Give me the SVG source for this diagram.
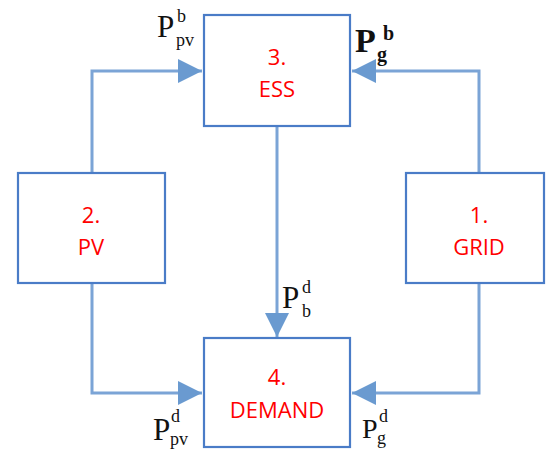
<svg xmlns="http://www.w3.org/2000/svg" width="546" height="450" viewBox="0 0 546 450">
<style>
.box{fill:#fff;stroke:#4a7cc7;stroke-width:2.2}
.lbl{font-family:"Open Sans","Noto Sans",sans-serif;font-size:22px;fill:#ff0000;text-anchor:middle}
.con{fill:none;stroke:#7ba4d6;stroke-width:3}
.m{font-family:"Liberation Serif","DejaVu Serif",serif;fill:#111}
.P{font-size:31px}
.s{font-size:18px}
</style>
<defs>
<marker id="ah" markerUnits="userSpaceOnUse" markerWidth="26" markerHeight="26" viewBox="0 0 26 26" refX="25" refY="13" orient="auto">
<path d="M1,1 L25,13 L1,25 Z" fill="#6a9ad0"/>
</marker>
</defs>
<g id="connectors">
<path class="con" d="M92,173 V71 H202" marker-end="url(#ah)"/>
<path class="con" d="M479,173 V71 H352" marker-end="url(#ah)"/>
<path class="con" d="M277,126 V337" marker-end="url(#ah)"/>
<path class="con" d="M92,283 V393 H202" marker-end="url(#ah)"/>
<path class="con" d="M479,283 V393 H352" marker-end="url(#ah)"/>
</g>
<g id="ess">
<rect class="box" x="204" y="15" width="146" height="111"/>
<text class="lbl" x="277" y="65">3.</text>
<text class="lbl" x="277" y="97">ESS</text>
</g>
<g id="pv">
<rect class="box" x="18" y="173" width="147" height="110"/>
<text class="lbl" x="91" y="223">2.</text>
<text class="lbl" x="91" y="255">PV</text>
</g>
<g id="grid">
<rect class="box" x="406" y="173" width="138" height="110"/>
<text class="lbl" x="479" y="223">1.</text>
<text class="lbl" x="479" y="255">GRID</text>
</g>
<g id="demand">
<rect class="box" x="204" y="338" width="146" height="109"/>
<text class="lbl" x="277" y="385">4.</text>
<text class="lbl" x="277" y="418">DEMAND</text>
</g>
<g id="labels">
<text class="m P" x="157" y="37">P</text>
<text class="m s" x="177" y="22">b</text>
<text class="m s" x="176" y="46">pv</text>

<text class="m" x="355" y="52" font-size="34" font-weight="bold">P</text>
<text class="m" x="383" y="40" font-size="20" font-weight="bold">b</text>
<text class="m" x="377" y="61" font-size="20" font-weight="bold">g</text>

<text class="m P" x="282" y="308">P</text>
<text class="m s" x="302" y="293">d</text>
<text class="m s" x="302" y="317">b</text>

<text class="m P" x="153" y="440">P</text>
<text class="m s" x="171" y="422">d</text>
<text class="m s" x="170" y="445">pv</text>

<text class="m" x="362" y="438" font-size="28">P</text>
<text class="m s" x="379" y="422">d</text>
<text class="m s" x="377" y="444">g</text>
</g>
</svg>
